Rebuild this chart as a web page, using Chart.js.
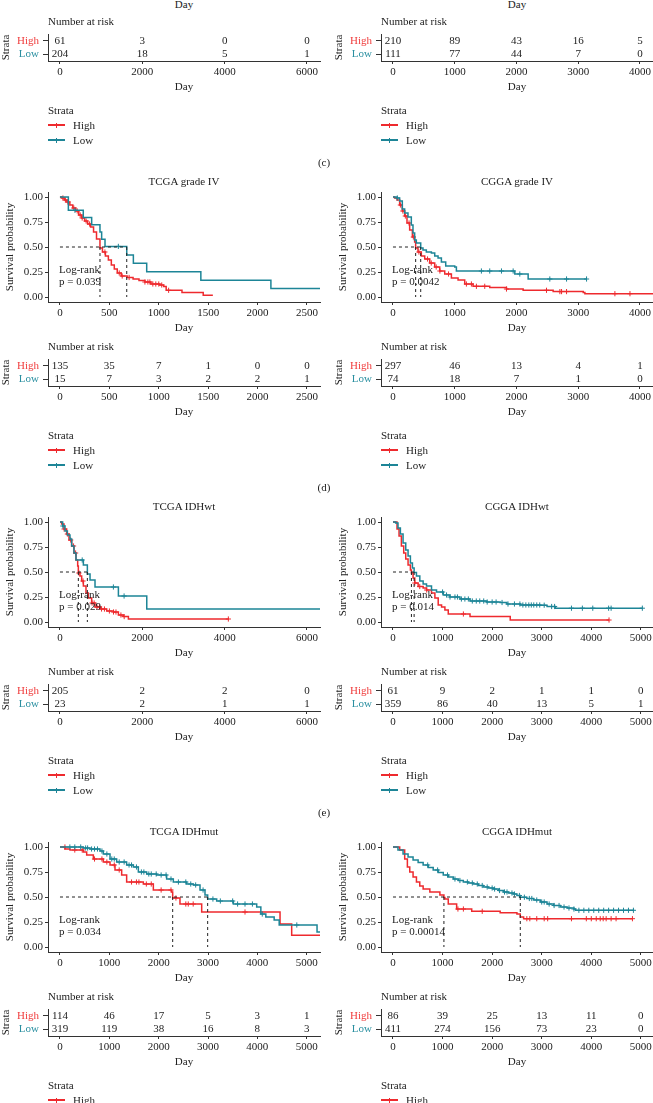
<!DOCTYPE html>
<html>
<head>
<meta charset="utf-8">
<script src="https://cdn.jsdelivr.net/npm/chart.js@4.4.1/dist/chart.umd.min.js"></script>
<style>
  body { margin: 0; background: #fff; }
  #fig { position: relative; width: 653px; height: 1103px; overflow: hidden;
         font-family: 'Liberation Serif', 'DejaVu Serif', serif; font-size: 11px; color: #222; }
  #fig canvas { position: absolute; }
  .t { position: absolute; white-space: nowrap; line-height: 1; }
</style>
</head>
<body>
<div id="fig"></div>
<script>
/* ---------- data ---------- */

// (c) only the number-at-risk tables are inside the crop
const cTcgaTicks = [0, 2000, 4000, 6000];
const cTcgaRiskHigh = [61, 3, 0, 0];
const cTcgaRiskLow = [204, 18, 5, 1];
const cCggaTicks = [0, 1000, 2000, 3000, 4000];
const cCggaRiskHigh = [210, 89, 43, 16, 5];
const cCggaRiskLow = [111, 77, 44, 7, 0];

// (d) TCGA grade IV
const g4TcgaTicks = [0, 500, 1000, 1500, 2000, 2500];
const g4TcgaHighDay  = [0, 20, 45, 70, 100, 130, 160, 190, 220, 250, 280, 310, 340, 370, 405, 430, 460, 490, 520, 550, 580, 620, 680, 740, 800, 860, 920, 1010, 1050, 1075, 1235, 1450, 1540];
const g4TcgaHighSurv = [1, 0.99, 0.97, 0.95, 0.92, 0.89, 0.86, 0.82, 0.79, 0.76, 0.73, 0.70, 0.65, 0.58, 0.49, 0.45, 0.41, 0.37, 0.32, 0.28, 0.24, 0.21, 0.195, 0.18, 0.165, 0.15, 0.13, 0.12, 0.105, 0.067, 0.045, 0.018, 0.01];
const g4TcgaHighCens = [30, 55, 80, 140, 175, 205, 225, 265, 300, 455, 600, 630, 700, 860, 890, 910, 940, 970, 1000, 1030, 1100];
const g4TcgaLowDay  = [0, 85, 236, 321, 405, 422, 456, 676, 743, 878, 1426, 2135, 2640];
const g4TcgaLowSurv = [1, 0.867, 0.794, 0.722, 0.65, 0.578, 0.506, 0.421, 0.337, 0.253, 0.168, 0.084, 0.084];
const g4TcgaLowCens = [152, 591];
const g4TcgaMedian = [405, 676];
const g4TcgaP = 'p = 0.039';
const g4TcgaRiskHigh = [135, 35, 7, 1, 0, 0];
const g4TcgaRiskLow = [15, 7, 3, 2, 2, 1];

// (d) CGGA grade IV
const g4CggaTicks = [0, 1000, 2000, 3000, 4000];
const g4CggaHighDay  = [0, 27, 65, 108, 151, 189, 227, 270, 314, 351, 367, 405, 459, 514, 595, 676, 757, 838, 946, 1054, 1162, 1297, 1567, 1838, 2108, 2594, 3081, 3108, 4215];
const g4CggaHighSurv = [1, 0.99, 0.97, 0.92, 0.86, 0.81, 0.74, 0.67, 0.60, 0.55, 0.49, 0.45, 0.41, 0.38, 0.34, 0.30, 0.26, 0.23, 0.19, 0.17, 0.13, 0.107, 0.094, 0.08, 0.067, 0.054, 0.044, 0.033, 0.033];
const g4CggaHighCens = [120, 160, 200, 260, 330, 420, 560, 620, 700, 760, 900, 1189, 1270, 1351, 1486, 1838, 2486, 2703, 2730, 2811, 3594, 3838];
const g4CggaLowDay  = [0, 65, 108, 151, 189, 243, 297, 324, 351, 378, 449, 486, 540, 622, 676, 730, 784, 854, 1000, 1027, 1973, 2189, 3135];
const g4CggaLowSurv = [1, 0.99, 0.96, 0.88, 0.84, 0.80, 0.72, 0.64, 0.57, 0.54, 0.49, 0.47, 0.45, 0.44, 0.41, 0.39, 0.35, 0.31, 0.30, 0.26, 0.23, 0.18, 0.18];
const g4CggaLowCens = [70, 1432, 1567, 1757, 1946, 2054, 2540, 2811, 3135];
const g4CggaMedian = [367, 449];
const g4CggaP = 'p = 0.0042';
const g4CggaRiskHigh = [297, 46, 13, 4, 1];
const g4CggaRiskLow = [74, 18, 7, 1, 0];

// (e) TCGA IDHwt
const wtTcgaTicks = [0, 2000, 4000, 6000];
const wtTcgaHighDay  = [0, 40, 97, 162, 219, 284, 340, 389, 430, 446, 486, 527, 568, 632, 689, 770, 851, 973, 1135, 1297, 1419, 1540, 1662, 4095];
const wtTcgaHighSurv = [1, 0.98, 0.93, 0.88, 0.82, 0.76, 0.69, 0.62, 0.56, 0.49, 0.46, 0.41, 0.36, 0.29, 0.24, 0.19, 0.15, 0.13, 0.11, 0.10, 0.07, 0.054, 0.03, 0.03];
const wtTcgaHighCens = [100, 180, 260, 330, 380, 460, 560, 780, 830, 900, 960, 1010, 1080, 1200, 1300, 1360, 1480, 1560, 4090];
const wtTcgaLowDay  = [0, 65, 122, 180, 243, 284, 340, 389, 568, 665, 730, 851, 1419, 2108, 6330];
const wtTcgaLowSurv = [1, 0.96, 0.91, 0.87, 0.83, 0.76, 0.69, 0.62, 0.57, 0.48, 0.42, 0.35, 0.26, 0.13, 0.13];
const wtTcgaLowCens = [70, 540, 1297, 1557];
const wtTcgaMedian = [446, 665];
const wtTcgaP = 'p = 0.029';
const wtTcgaRiskHigh = [205, 2, 2, 0];
const wtTcgaRiskLow = [23, 2, 1, 1];

// (e) CGGA IDHwt
const wtCggaTicks = [0, 1000, 2000, 3000, 4000, 5000];
const wtCggaHighDay  = [0, 34, 81, 122, 169, 216, 257, 304, 351, 372, 405, 439, 507, 608, 676, 777, 845, 912, 980, 1047, 1115, 1554, 2365, 4358];
const wtCggaHighSurv = [1, 1, 0.93, 0.86, 0.76, 0.69, 0.63, 0.57, 0.52, 0.49, 0.44, 0.39, 0.355, 0.34, 0.32, 0.29, 0.24, 0.17, 0.15, 0.12, 0.08, 0.054, 0.02, 0.02];
const wtCggaHighCens = [440, 540, 680, 1420, 4358];
const wtCggaLowDay  = [0, 54, 101, 149, 203, 257, 304, 351, 392, 426, 473, 541, 608, 676, 777, 878, 1014, 1149, 1351, 1554, 1892, 2162, 2297, 2568, 2973, 3108, 3277, 5034];
const wtCggaLowSurv = [1, 0.99, 0.94, 0.88, 0.79, 0.72, 0.66, 0.59, 0.54, 0.495, 0.46, 0.41, 0.38, 0.36, 0.32, 0.30, 0.27, 0.25, 0.23, 0.21, 0.20, 0.195, 0.18, 0.17, 0.168, 0.155, 0.138, 0.138];
const wtCggaLowCens = [1000, 1080, 1150, 1250, 1300, 1380, 1450, 1520, 1600, 1680, 1750, 1830, 1900, 2000, 2080, 2200, 2320, 2450, 2560, 2620, 2680, 2740, 2790, 2840, 2900, 2960, 3050, 3200, 3260, 3600, 3820, 4030, 4350, 4400, 5030];
const wtCggaMedian = [372, 426];
const wtCggaP = 'p = 0.014';
const wtCggaRiskHigh = [61, 9, 2, 1, 1, 0];
const wtCggaRiskLow = [359, 86, 40, 13, 5, 1];

// (f) TCGA IDHmut
const mutTcgaTicks = [0, 1000, 2000, 3000, 4000, 5000];
const mutTcgaHighDay  = [0, 101, 203, 473, 541, 676, 878, 1014, 1115, 1250, 1351, 1689, 1892, 2264, 2284, 2432, 2872, 4460, 4696, 5280];
const mutTcgaHighSurv = [1, 0.98, 0.97, 0.95, 0.92, 0.88, 0.85, 0.82, 0.77, 0.72, 0.65, 0.63, 0.57, 0.55, 0.49, 0.43, 0.35, 0.23, 0.117, 0.117];
const mutTcgaHighCens = [100, 300, 450, 700, 850, 950, 1100, 1200, 1450, 1550, 1600, 1750, 1850, 2050, 2250, 2350, 2550, 2600, 2700, 3750];
const mutTcgaLowDay  = [0, 473, 608, 811, 878, 1014, 1149, 1351, 1486, 1588, 1757, 1960, 2162, 2297, 2568, 2703, 2838, 2939, 2993, 3176, 3514, 3987, 4071, 4172, 4341, 4443, 5210, 5280];
const mutTcgaLowSurv = [1, 0.99, 0.98, 0.96, 0.93, 0.88, 0.85, 0.82, 0.80, 0.75, 0.73, 0.72, 0.68, 0.65, 0.63, 0.62, 0.57, 0.52, 0.48, 0.46, 0.43, 0.40, 0.33, 0.30, 0.27, 0.22, 0.15, 0.15];
const mutTcgaLowCens = [200, 300, 420, 520, 560, 640, 700, 760, 850, 950, 1050, 1100, 1200, 1300, 1400, 1450, 1550, 1650, 1700, 1800, 1850, 1950, 2050, 2150, 2250, 2400, 2550, 2650, 2750, 2900, 3100, 3250, 3500, 3600, 3750, 3900, 4100, 4800];
const mutTcgaMedian = [2284, 2993];
const mutTcgaP = 'p = 0.034';
const mutTcgaRiskHigh = [114, 46, 17, 5, 3, 1];
const mutTcgaRiskLow = [319, 119, 38, 16, 8, 3];

// (f) CGGA IDHmut
const mutCggaTicks = [0, 1000, 2000, 3000, 4000, 5000];
const mutCggaHighDay  = [0, 135, 236, 290, 338, 405, 473, 540, 608, 743, 946, 1027, 1047, 1115, 1284, 1588, 2162, 2500, 2568, 2635, 4831];
const mutCggaHighSurv = [1, 0.97, 0.88, 0.80, 0.75, 0.70, 0.65, 0.61, 0.58, 0.55, 0.52, 0.495, 0.48, 0.43, 0.38, 0.357, 0.343, 0.33, 0.30, 0.283, 0.283];
const mutCggaHighCens = [1310, 1420, 1800, 2700, 2760, 2900, 3050, 3120, 3600, 3900, 4000, 4100, 4180, 4240, 4300, 4400, 4500, 4830];
const mutCggaLowDay  = [0, 100, 203, 304, 405, 507, 608, 710, 811, 912, 1014, 1115, 1216, 1318, 1419, 1520, 1622, 1723, 1824, 1926, 2027, 2128, 2230, 2331, 2432, 2500, 2568, 2700, 2838, 2973, 3108, 3243, 3378, 3514, 3649, 3683, 4865];
const mutCggaLowSurv = [1, 0.97, 0.93, 0.90, 0.87, 0.845, 0.82, 0.795, 0.77, 0.745, 0.72, 0.70, 0.68, 0.665, 0.65, 0.64, 0.63, 0.615, 0.60, 0.59, 0.58, 0.565, 0.55, 0.54, 0.53, 0.515, 0.498, 0.485, 0.47, 0.45, 0.43, 0.415, 0.40, 0.39, 0.38, 0.367, 0.367];
const mutCggaLowCens = [700, 900, 1100, 1250, 1350, 1500, 1600, 1700, 1800, 1900, 2000, 2050, 2150, 2250, 2300, 2400, 2450, 2550, 2650, 2750, 2800, 2900, 3000, 3050, 3150, 3250, 3350, 3450, 3550, 3650, 3750, 3850, 3950, 4050, 4150, 4250, 4350, 4450, 4550, 4650, 4750, 4850];
const mutCggaMedian = [1027, 2568];
const mutCggaP = 'p = 0.00014';
const mutCggaRiskHigh = [86, 39, 25, 13, 11, 0];
const mutCggaRiskLow = [411, 274, 156, 73, 23, 0];

const yTicks = [0, 0.25, 0.5, 0.75, 1];
const strata = ['High', 'Low'];

/* ---------- styling ---------- */
const RED = '#ee2a2e', TEAL = '#1d8597';
const RED_TXT = '#f03c3c', TEAL_TXT = '#2a8fa0';
const TXT = '#222', AXIS = '#333';
const FONT = "'Liberation Serif', 'DejaVu Serif', serif";
const font = { family: FONT, size: 11 };

const fig = document.getElementById('fig');

// column geometry: axis line x, canvas left
const COLS = [{ axis: 48, left: 0 }, { axis: 381, left: 333 }];

function text(str, x, y, align, color) {
    const d = document.createElement('div');
    d.className = 't';
    d.textContent = str;
    d.style.left = x + 'px';
    d.style.top = y + 'px';
    const tx = align === 'center' ? '-50%' : align === 'right' ? '-100%' : '0';
    d.style.transform = `translate(${tx}, -50%)`;
    if (color) d.style.color = color;
    fig.appendChild(d);
}

function box(x, y, w, h, color) {
    const d = document.createElement('div');
    Object.assign(d.style, { position: 'absolute', left: x + 'px', top: y + 'px', width: w + 'px', height: h + 'px', background: color });
    fig.appendChild(d);
}

function addCanvas(x, y, w, h) {
    const c = document.createElement('canvas');
    c.width = w; c.height = h;
    c.style.left = x + 'px'; c.style.top = y + 'px';
    fig.appendChild(c);
    return c;
}

// survival value at a censoring time (step lookup in the curve)
function survAt(days, surv, t) {
    let s = surv[0];
    days.forEach((d, i) => { if (d <= t) s = surv[i]; });
    return s;
}

const pvalText = {
    id: 'pvalText',
    afterDatasetsDraw(chart, args, opts) {
        if (!opts.text) return;
        const { ctx, scales: { x, y } } = chart;
        ctx.save();
        ctx.font = `11px ${FONT}`;
        ctx.fillStyle = TXT;
        ctx.textAlign = 'left';
        ctx.textBaseline = 'middle';
        ctx.fillText('Log-rank', x.getPixelForValue(0) - 1, y.getPixelForValue(0.27));
        ctx.fillText(opts.text, x.getPixelForValue(0) - 1, y.getPixelForValue(0.145));
        ctx.restore();
    }
};

const riskNumbers = {
    id: 'riskNumbers',
    afterDatasetsDraw(chart) {
        const ctx = chart.ctx;
        ctx.save();
        ctx.font = `11px ${FONT}`;
        ctx.fillStyle = TXT;
        ctx.textAlign = 'center';
        ctx.textBaseline = 'middle';
        chart.data.datasets.forEach((ds, i) => {
            chart.getDatasetMeta(i).data.forEach((pt, j) => ctx.fillText(String(ds.counts[j]), pt.x, pt.y));
        });
        ctx.restore();
    }
};

function xScale(p, titleText) {
    return {
        type: 'linear', min: p.xMin, max: p.xMax,
        afterBuildTicks: s => { s.ticks = p.ticks.map(v => ({ value: v })); },
        afterFit: s => { s.height = 36; },
        grid: { drawOnChartArea: false, drawTicks: true, tickLength: 3, color: AXIS },
        border: { display: true, color: AXIS, width: 1 },
        ticks: { color: TXT, font, padding: 2, maxRotation: 0, autoSkip: false, callback: v => String(v) },
        title: { display: true, text: titleText, color: TXT, font, padding: { top: 0, bottom: 3 } }
    };
}

function curveSets(days, surv, cens, color) {
    return [
        {
            data: cens.map(t => ({ x: t, y: survAt(days, surv, t) })),
            pointStyle: 'cross', pointRadius: 2.6, borderColor: color, borderWidth: 1, showLine: false
        },
        {
            data: days.map((d, i) => ({ x: d, y: surv[i] })),
            showLine: true, stepped: true, borderColor: color, borderWidth: 1.5, pointRadius: 0, fill: false
        }
    ];
}

function kmChart(p, col, R) {
    const c = COLS[col];
    const cv = addCanvas(c.left, 180 + R, 330, 158);
    const maxMed = Math.max(...p.median);
    const datasets = [
        { data: [{ x: 0, y: 0.5 }, { x: maxMed, y: 0.5 }], showLine: true, borderColor: '#222', borderWidth: 1, borderDash: [3, 3], pointRadius: 0 },
        ...p.median.map(m => ({ data: [{ x: m, y: 0.5 }, { x: m, y: 0 }], showLine: true, borderColor: '#222', borderWidth: 1, borderDash: [3, 3], pointRadius: 0 })),
        ...curveSets(p.lowDay, p.lowSurv, p.lowCens, TEAL),
        ...curveSets(p.highDay, p.highSurv, p.highCens, RED)
    ];
    new Chart(cv, {
        type: 'scatter',
        data: { datasets },
        options: {
            animation: false, responsive: false, events: [],
            layout: { padding: { top: 12, right: 10, left: 0, bottom: 0 } },
            plugins: { legend: { display: false }, tooltip: { enabled: false }, pvalText: { text: p.pText } },
            scales: {
                x: xScale(p, 'Day'),
                y: {
                    type: 'linear', min: -0.05, max: 1.05,
                    afterBuildTicks: s => { s.ticks = yTicks.map(v => ({ value: v })); },
                    afterFit: s => { s.width = 48; },
                    grid: { drawOnChartArea: false, drawTicks: true, tickLength: 3, color: AXIS },
                    border: { display: true, color: AXIS, width: 1 },
                    ticks: { color: TXT, font, padding: 2, callback: v => v.toFixed(2) },
                    title: { display: true, text: 'Survival probability', color: TXT, font, padding: { top: 4, bottom: 0 } }
                }
            }
        },
        plugins: [pvalText]
    });
    text(p.title, (c.axis + c.axis + 272) / 2, 181 + R, 'center');
}

function riskChart(p, col, R) {
    const c = COLS[col];
    const cv = addCanvas(c.left, 345 + R, 330, 77);
    new Chart(cv, {
        type: 'scatter',
        data: {
            datasets: [
                { data: p.ticks.map(t => ({ x: t, y: strata[0] })), counts: p.riskHigh, pointRadius: 0 },
                { data: p.ticks.map(t => ({ x: t, y: strata[1] })), counts: p.riskLow, pointRadius: 0 }
            ]
        },
        options: {
            animation: false, responsive: false, events: [],
            layout: { padding: { top: 14, right: 10, left: 0, bottom: 0 } },
            plugins: { legend: { display: false }, tooltip: { enabled: false } },
            scales: {
                x: xScale(p, 'Day'),
                y: {
                    type: 'category', labels: strata, offset: true,
                    afterFit: s => { s.width = 48; },
                    grid: { drawOnChartArea: false, drawTicks: true, tickLength: 5, color: AXIS, offset: false },
                    border: { display: true, color: AXIS, width: 1 },
                    ticks: { font, padding: 4, autoSkip: false, color: ctx => ctx.index === 0 ? RED_TXT : TEAL_TXT },
                    title: { display: true, text: 'Strata', color: TXT, font, padding: { top: 0, bottom: 0 } }
                }
            }
        },
        plugins: [riskNumbers]
    });
    text('Number at risk', c.axis, 346 + R, 'left');
}

function legend(col, R) {
    const x = COLS[col].axis;
    text('Strata', x, 435 + R, 'left');
    [[strata[0], RED, 450], [strata[1], TEAL, 465]].forEach(([lab, color, y]) => {
        box(x, y + R - 0.75, 17, 1.5, color);
        box(x + 8, y + R - 2.5, 1, 5, color);
        text(lab, x + 25, y + R, 'left');
    });
}

/* ---------- panels ---------- */
const rows = { c: -325, d: 0, e: 325, f: 650 };

const panelsC = [
    { ticks: cTcgaTicks, riskHigh: cTcgaRiskHigh, riskLow: cTcgaRiskLow, xMin: -291, xMax: 6316 },
    { ticks: cCggaTicks, riskHigh: cCggaRiskHigh, riskLow: cCggaRiskLow, xMin: -194, xMax: 4211 }
];
panelsC.forEach((p, col) => {
    riskChart(p, col, rows.c);
    legend(col, rows.c);
    text('Day', COLS[col].axis + 136, 329 + rows.c, 'center');
});

const panelRows = [
    ['d', [
        { title: 'TCGA grade IV', ticks: g4TcgaTicks, xMin: -121, xMax: 2632,
          highDay: g4TcgaHighDay, highSurv: g4TcgaHighSurv, highCens: g4TcgaHighCens,
          lowDay: g4TcgaLowDay, lowSurv: g4TcgaLowSurv, lowCens: g4TcgaLowCens,
          median: g4TcgaMedian, pText: g4TcgaP, riskHigh: g4TcgaRiskHigh, riskLow: g4TcgaRiskLow },
        { title: 'CGGA grade IV', ticks: g4CggaTicks, xMin: -194, xMax: 4211,
          highDay: g4CggaHighDay, highSurv: g4CggaHighSurv, highCens: g4CggaHighCens,
          lowDay: g4CggaLowDay, lowSurv: g4CggaLowSurv, lowCens: g4CggaLowCens,
          median: g4CggaMedian, pText: g4CggaP, riskHigh: g4CggaRiskHigh, riskLow: g4CggaRiskLow }
    ]],
    ['e', [
        { title: 'TCGA IDHwt', ticks: wtTcgaTicks, xMin: -291, xMax: 6316,
          highDay: wtTcgaHighDay, highSurv: wtTcgaHighSurv, highCens: wtTcgaHighCens,
          lowDay: wtTcgaLowDay, lowSurv: wtTcgaLowSurv, lowCens: wtTcgaLowCens,
          median: wtTcgaMedian, pText: wtTcgaP, riskHigh: wtTcgaRiskHigh, riskLow: wtTcgaRiskLow },
        { title: 'CGGA IDHwt', ticks: wtCggaTicks, xMin: -242, xMax: 5245,
          highDay: wtCggaHighDay, highSurv: wtCggaHighSurv, highCens: wtCggaHighCens,
          lowDay: wtCggaLowDay, lowSurv: wtCggaLowSurv, lowCens: wtCggaLowCens,
          median: wtCggaMedian, pText: wtCggaP, riskHigh: wtCggaRiskHigh, riskLow: wtCggaRiskLow }
    ]],
    ['f', [
        { title: 'TCGA IDHmut', ticks: mutTcgaTicks, xMin: -243, xMax: 5270,
          highDay: mutTcgaHighDay, highSurv: mutTcgaHighSurv, highCens: mutTcgaHighCens,
          lowDay: mutTcgaLowDay, lowSurv: mutTcgaLowSurv, lowCens: mutTcgaLowCens,
          median: mutTcgaMedian, pText: mutTcgaP, riskHigh: mutTcgaRiskHigh, riskLow: mutTcgaRiskLow },
        { title: 'CGGA IDHmut', ticks: mutCggaTicks, xMin: -242, xMax: 5245,
          highDay: mutCggaHighDay, highSurv: mutCggaHighSurv, highCens: mutCggaHighCens,
          lowDay: mutCggaLowDay, lowSurv: mutCggaLowSurv, lowCens: mutCggaLowCens,
          median: mutCggaMedian, pText: mutCggaP, riskHigh: mutCggaRiskHigh, riskLow: mutCggaRiskLow }
    ]]
];

panelRows.forEach(([key, panels]) => {
    const R = rows[key];
    panels.forEach((p, col) => {
        kmChart(p, col, R);
        riskChart(p, col, R);
        legend(col, R);
    });
});

// panel letters
text('(c)', 324, 162, 'center');
text('(d)', 324, 487, 'center');
text('(e)', 324, 812, 'center');
</script>
</body>
</html>
